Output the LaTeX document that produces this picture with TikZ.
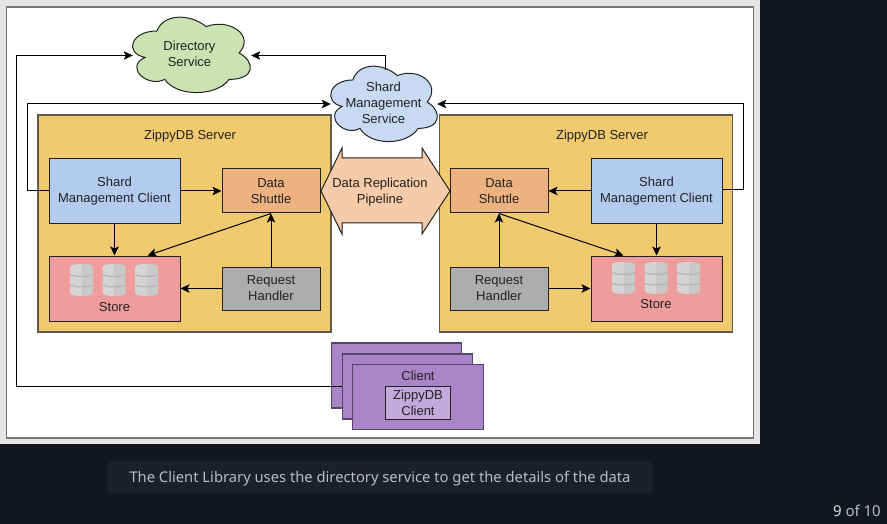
\documentclass[tikz,border=0pt]{standalone}
\usepackage{fontspec}
\setmainfont{Liberation Sans}
\newfontfamily\capfont{Noto Sans}
\usetikzlibrary{arrows.meta,calc}
\definecolor{pagebg}{HTML}{14161F}
\definecolor{capbg}{HTML}{1E2029}
\definecolor{captxt}{HTML}{B9BCC4}
\definecolor{panelbg}{HTML}{E6E6E6}
\definecolor{panelln}{HTML}{777777}
\definecolor{ink}{HTML}{222222}
\definecolor{srvfill}{HTML}{F1CA6F}
\definecolor{srvln}{HTML}{5F5A4A}
\definecolor{smcfill}{HTML}{B3CBEF}
\definecolor{dsfill}{HTML}{EEB280}
\definecolor{storefill}{HTML}{EE9C9C}
\definecolor{rhfill}{HTML}{ADADAD}
\definecolor{pipefill}{HTML}{F6CBA9}
\definecolor{dirfill}{HTML}{C9E3B2}
\definecolor{shfill}{HTML}{C8DAF2}
\definecolor{clifill}{HTML}{A985C8}
\definecolor{cliin}{HTML}{C3A9DC}
\definecolor{cliln}{HTML}{54476A}
\definecolor{dbleft}{HTML}{D4D4D4}
\definecolor{dbright}{HTML}{C9C9C9}
\definecolor{dbline}{HTML}{B4B4B4}
\tikzset{
  lbl/.style={font=\fontsize{13}{16}\selectfont, text=ink, align=center, inner sep=0pt},
  box/.style={lbl, draw=ink, line width=1pt, minimum width=#1, inner sep=0pt},
  smcbox/.style={box=131pt, minimum height=65pt, fill=smcfill},
  storebox/.style={box=131pt, minimum height=65pt, fill=storefill},
  dsbox/.style={box=98pt, minimum height=44pt, fill=dsfill},
  rhbox/.style={box=98pt, minimum height=43pt, fill=rhfill},
  srvbox/.style={draw=srvln, line width=1.5pt, fill=srvfill, minimum width=293pt, minimum height=217pt},
  clibox/.style={draw=cliln, line width=1.3pt, fill=clifill, minimum width=130.5pt, minimum height=65pt},
  cloudline/.style={draw=ink, line width=1pt},
  conn/.style={draw=black, line width=1pt, -{Stealth[length=9pt,width=8.5pt,inset=2pt]}},
  perim/.style={lbl, minimum height=75pt},
}
\newcommand{\cloudpath}[5]{%
  \path[cloudline, fill=#5, shift={(#1,#2)}, x=#3pt, y=-#4pt]
    (0.25,0.25) .. controls (0.05,0.25) and (0,0.5) .. (0.16,0.55)
    .. controls (0,0.66) and (0.18,0.9) .. (0.31,0.8)
    .. controls (0.4,1) and (0.7,1) .. (0.8,0.8)
    .. controls (1,0.8) and (1,0.6) .. (0.875,0.5)
    .. controls (1,0.3) and (0.8,0.1) .. (0.625,0.2)
    .. controls (0.5,0.05) and (0.3,0.05) .. (0.25,0.25) -- cycle;}
\newcommand{\dbicon}[2]{%
  \begin{scope}[shift={(#1,#2)}]
    \fill[dbleft] (0,2.5) -- (0,29) .. controls (0,32) and (12,32) .. (12,32) -- (12,0)
      .. controls (12,0) and (0,0) .. (0,2.5) -- cycle;
    \fill[dbright] (23,2.5) -- (23,29) .. controls (23,32) and (12,32) .. (12,32) -- (12,0)
      .. controls (12,0) and (23,0) .. (23,2.5) -- cycle;
    \draw[dbline, line width=1.2pt] (0,10.5) .. controls (4,13) and (19,13) .. (23,10.5);
    \draw[dbline, line width=1.2pt] (0,21) .. controls (4,23.5) and (19,23.5) .. (23,21);
  \end{scope}}
\begin{document}
\begin{tikzpicture}[x=1pt,y=-1pt]
\useasboundingbox (0,0) rectangle (887,524);
% page
\fill[pagebg] (0,0) rectangle (887,524);
\fill[panelbg] (0,0) rectangle (760,444);
\draw[panelln, line width=1.5pt, fill=white] (6.5,7) rectangle (753.5,438);
\fill[capbg, rounded corners=4pt] (107,461) rectangle (653,493);
\node[font=\capfont\fontsize{14.75}{18}\selectfont, text=captxt, inner sep=0pt] (caption) at (380,478.5) {The Client Library uses the directory service to get the details of the data};
\node[font=\capfont\fontsize{15}{18}\selectfont, text=captxt, inner sep=0pt, anchor=east] (pager) at (881,511) {\textcolor{white!85!black}{\bfseries 9} of 10};
% clouds
\cloudpath{124}{9}{131.5}{88}{dirfill}
\cloudpath{323}{58}{119}{88}{shfill}
\node[perim, minimum width=118pt] (dir) at (192,55.5) {};
\node[lbl] (dirtxt) at (189.5,53.7) {Directory\\Service};
\node[perim, minimum width=106pt] (shard) at (384,104) {};
\node[lbl] (shardtxt) at (383.5,102.7) {Shard\\Management\\Service};
\coordinate (shardtop) at (385.5,70);
% servers
\node[srvbox] (srvL) at (184.5,223.5) {};
\node[srvbox] (srvR) at (586,223.5) {};
\node[lbl] (srvLt) at (190,136.5) {ZippyDB Server};
\node[lbl] (srvRt) at (602,136.5) {ZippyDB Server};
% left server
\node[smcbox] (smcL) at (114.5,191) {Shard\\Management Client};
\node[dsbox] (dsL) at (271,191) {Data\\Shuttle};
\node[storebox] (stL) at (114.5,288.5) {};
\node[rhbox] (rhL) at (271,288.5) {Request\\Handler};
\node[lbl] (stLt) at (114.5,307.5) {Store};
\dbicon{70}{264}\dbicon{102.5}{264}\dbicon{135}{264}
% right server
\node[smcbox] (smcR) at (656.5,191) {Shard\\Management Client};
\node[dsbox] (dsR) at (499,191) {Data\\Shuttle};
\node[storebox] (stR) at (656.5,288.5) {};
\node[rhbox] (rhR) at (499,288.5) {Request\\Handler};
\node[lbl] (stRt) at (656,304.5) {Store};
\dbicon{612}{262}\dbicon{644.5}{262}\dbicon{677}{262}
% pipeline
\path[draw=ink, line width=1pt, fill=pipefill, line join=miter]
  (321,191) -- (342,148) -- (342,158) -- (422,158) -- (422,148) -- (450,191)
  -- (422,234) -- (422,223) -- (342,223) -- (342,234) -- cycle;
\node[lbl] (pipe) at (380,191.7) {Data Replication\\Pipeline};
% clients
\node[clibox] (cli1) at (396.5,375.5) {};
\node[clibox] (cli2) at (407.5,386.5) {};
\draw[conn] (cli2.west) -- ++(-325.5,0) |- (dir.west);
\node[clibox] (cli3) at (418,397) {};
\node[lbl] (cli3t) at (418,375.5) {Client};
\node[lbl, draw=ink, line width=1pt, fill=cliin, minimum width=65.5pt, minimum height=33pt] (zc) at (418,402.5) {ZippyDB\\Client};
% connectors
\draw[conn] (shardtop) |- (dir.east);
\draw[conn] (smcL.west) -- ++(-21,0) |- (shard.west);
\draw[conn] ($(smcR.east)+(0,-1.5)$) -- ++(21,0) |- (shard.east);
\draw[conn] (smcL.east) -- (dsL.west);
\draw[conn] (smcR.west) -- (dsR.east);
\draw[conn] (smcL.south) -- (stL.north);
\draw[conn] (smcR.south) -- (stR.north);
\draw[conn] (rhL.west) -- (stL.east);
\draw[conn] (rhR.east) -- (stR.west);
\draw[conn] (rhL.north) -- (dsL.south);
\draw[conn] (rhR.north) -- (dsR.south);
\draw[conn] (dsL.south) -- ($(stL.north)+(33,0)$);
\draw[conn] (dsR.south) -- ($(stR.north)+(-33,0)$);
\end{tikzpicture}
\end{document}
